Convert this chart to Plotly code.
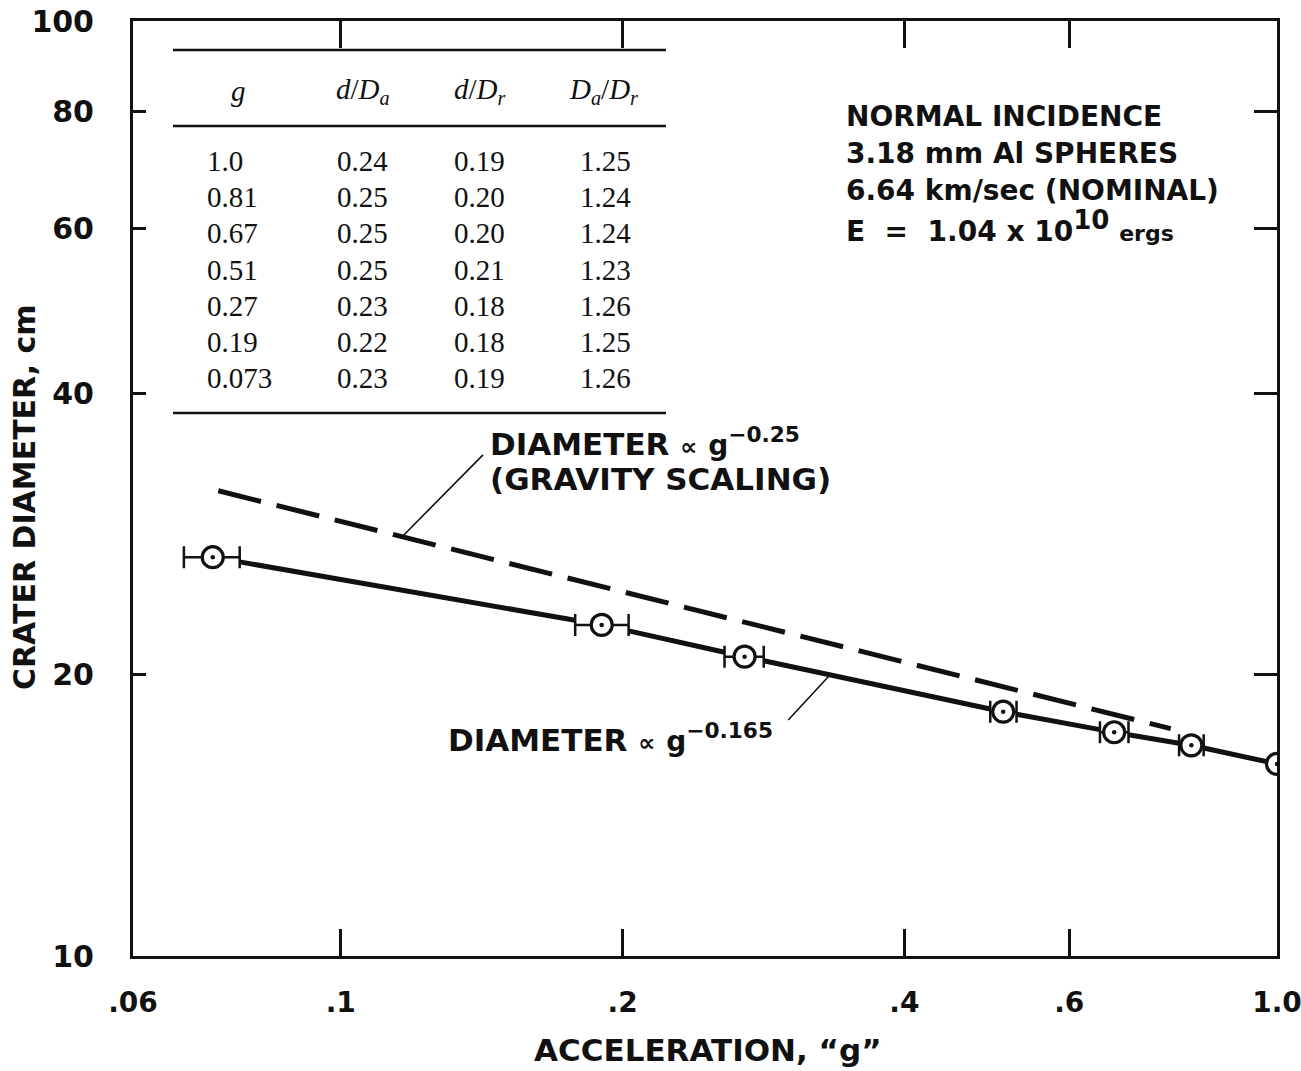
import numpy as np
import plotly.graph_objects as go

# ---- measured crater diameters vs. acceleration ----
g_vals = [0.073, 0.19, 0.27, 0.51, 0.67, 0.81, 1.0]
diam_cm = [26.7, 22.6, 20.9, 18.25, 17.35, 16.8, 16.05]
g_low = [0.068, 0.178, 0.257, 0.494, 0.647, 0.786, 1.0]
g_high = [0.078, 0.203, 0.283, 0.527, 0.694, 0.835, 1.0]

# ---- gravity-scaling reference line, D ~ g^-0.25 ----
gravity_exp = -0.25
gravity_coeff = 16.4
gravity_g_range = [0.074, 0.77]

# ---- inset table ----
table_header = ["<i>g</i>", "<i>d</i>/<i>D<sub>a</sub></i>",
                "<i>d</i>/<i>D<sub>r</sub></i>", "<i>D<sub>a</sub></i>/<i>D<sub>r</sub></i>"]
table_g = ["1.0", "0.81", "0.67", "0.51", "0.27", "0.19", "0.073"]
table_d_Da = ["0.24", "0.25", "0.25", "0.25", "0.23", "0.22", "0.23"]
table_d_Dr = ["0.19", "0.20", "0.20", "0.21", "0.18", "0.18", "0.19"]
table_Da_Dr = ["1.25", "1.24", "1.24", "1.23", "1.26", "1.25", "1.26"]

# ---- axis ticks ----
x_ticks = [0.06, 0.1, 0.2, 0.4, 0.6, 1.0]
x_ticktext = [".06", ".1", ".2", ".4", ".6", "1.0"]
y_ticks = [10, 20, 40, 60, 80, 100]
y_ticktext = ["10", "20", "40", "60", "80", "100"]

W, H = 1301, 1071
ML, MR, MT, MB = 133, 24, 21, 115
PW, PH = W - ML - MR, H - MT - MB


def px(x):
    return (x - ML) / PW


def py(y):
    return (H - MB - y) / PH


SANS = "DejaVu Sans"
SERIF = "Liberation Serif"
BLACK = "#111111"

fig = go.Figure()

# fitted trend between successive points, drawn between the error-bar caps
seg_x, seg_y = [], []
lg, ld = np.log10(g_vals), np.log10(diam_cm)
for i in range(len(g_vals) - 1):
    s = (ld[i + 1] - ld[i]) / (lg[i + 1] - lg[i])
    ga = g_high[i]
    gb = g_low[i + 1] if i + 1 < len(g_vals) - 1 else g_vals[i + 1]
    for gg in (ga, gb):
        seg_x.append(gg)
        seg_y.append(10 ** (ld[i] + s * (np.log10(gg) - lg[i])))
    seg_x.append(None)
    seg_y.append(None)
fig.add_trace(go.Scatter(x=seg_x, y=seg_y, mode="lines",
                         line=dict(color=BLACK, width=5), hoverinfo="skip"))

# gravity scaling dashed line
gx = np.array(gravity_g_range)
fig.add_trace(go.Scatter(x=gx, y=gravity_coeff * gx ** gravity_exp, mode="lines",
                         line=dict(color=BLACK, width=5, dash="44px,16px"),
                         hoverinfo="skip"))

# data points with horizontal error bars
gv = np.array(g_vals)
fig.add_trace(go.Scatter(
    x=g_vals, y=diam_cm, mode="markers",
    marker=dict(symbol="circle", size=21, color="white",
                line=dict(color=BLACK, width=3.2)),
    error_x=dict(type="data", symmetric=False,
                 array=list(np.array(g_high) - gv),
                 arrayminus=list(gv - np.array(g_low)),
                 thickness=2.5, width=11, color=BLACK),
))
fig.add_trace(go.Scatter(x=g_vals, y=diam_cm, mode="markers",
                         marker=dict(size=4.5, color=BLACK), hoverinfo="skip"))

# leader lines from the labels to the lines
g_up = 0.1163
fig.add_trace(go.Scatter(x=[0.1419, g_up], y=[34.35, gravity_coeff * g_up ** gravity_exp],
                         mode="lines", line=dict(color=BLACK, width=1.6), hoverinfo="skip"))
fig.add_trace(go.Scatter(x=[0.3006, 0.333], y=[17.88, 19.98],
                         mode="lines", line=dict(color=BLACK, width=1.6), hoverinfo="skip"))

# dummy trace for the right-hand tick axis
fig.add_trace(go.Scatter(x=[0.5], y=[20], yaxis="y2", mode="markers",
                         marker=dict(opacity=0), hoverinfo="skip"))

ann = []
# inset table
for xc, txt in zip([238, 363, 480, 603], table_header):
    ann.append(dict(x=px(xc), y=py(91), text=txt, xanchor="center", yanchor="middle",
                    font=dict(family=SERIF, size=29, color=BLACK)))
cols = [table_g, table_d_Da, table_d_Dr, table_Da_Dr]
for xl, col in zip([205, 335, 452, 578], cols):
    for r, txt in enumerate(col):
        ann.append(dict(x=px(xl), y=py(161 + 36.2 * r), text=txt, xanchor="left",
                        yanchor="middle", font=dict(family=SERIF, size=29, color=BLACK)))

# experiment description
desc = ["NORMAL INCIDENCE", "3.18 mm Al SPHERES", "6.64 km/sec (NOMINAL)",
        "E  =  1.04 x 10<sup><span style='font-size:26px'>10</span></sup> "
        "<span style='font-size:22px'>ergs</span>"]
for i, txt in enumerate(desc):
    ann.append(dict(x=px(844), y=py(117 + 36.5 * i), text=txt, xanchor="left",
                    yanchor="middle", font=dict(family=SANS, size=28, color=BLACK,
                                                weight="bold")))

lab_font = dict(family=SANS, size=31, color=BLACK, weight="bold")
ann.append(dict(x=px(488), y=py(442),
                text="DIAMETER <span style='font-size:24px'>∝</span> "
                     "<span style='font-size:28px'>g</span><sup>−0.25</sup>",
                xanchor="left", yanchor="middle", font=lab_font))
ann.append(dict(x=px(488), y=py(479), text="(GRAVITY SCALING)",
                xanchor="left", yanchor="middle", font=lab_font))
ann.append(dict(x=px(446), y=py(738),
                text="DIAMETER <span style='font-size:24px'>∝</span> "
                     "<span style='font-size:28px'>g</span><sup>−0.165</sup>",
                xanchor="left", yanchor="middle", font=lab_font))

# axis titles
ann.append(dict(x=px(708), y=py(1050), text="ACCELERATION, “g”", xanchor="center",
                yanchor="middle", font=dict(family=SANS, size=31, color=BLACK, weight="bold")))
ann.append(dict(x=px(25), y=py(497), text="CRATER DIAMETER, cm", textangle=-90,
                xanchor="center", yanchor="middle",
                font=dict(family=SANS, size=30, color=BLACK, weight="bold")))
for a in ann:
    a.update(xref="paper", yref="paper", showarrow=False)

# table rules
shapes = []
for yy in [50, 126, 413]:
    shapes.append(dict(type="line", xref="paper", yref="paper", x0=px(173), x1=px(666),
                       y0=py(yy), y1=py(yy), line=dict(color=BLACK, width=2.5)))

fig.update_layout(
    width=W, height=H,
    margin=dict(l=ML, r=MR, t=MT, b=MB),
    paper_bgcolor="white", plot_bgcolor="white",
    showlegend=False,
    annotations=ann, shapes=shapes,
    xaxis=dict(type="log", range=[np.log10(0.06), 0], tickvals=x_ticks,
               ticktext=x_ticktext, ticks="inside", ticklen=27, tickwidth=2.5,
               tickcolor=BLACK, showline=True, linewidth=3, linecolor=BLACK,
               mirror="ticks", showgrid=False, zeroline=False,
               tickfont=dict(family=SANS, size=28, color=BLACK, weight="bold"),
               ticklabelstandoff=19, ticklabeloverflow="allow", automargin=False),
    yaxis=dict(type="log", range=[1, 2], tickvals=y_ticks, ticktext=y_ticktext,
               ticks="inside", ticklen=13, tickwidth=2.5, tickcolor=BLACK,
               showline=True, linewidth=3, linecolor=BLACK, mirror=True,
               showgrid=False, zeroline=False,
               tickfont=dict(family=SANS, size=30, color=BLACK, weight="bold"),
               ticklabelstandoff=30, automargin=False),
    yaxis2=dict(type="log", range=[1, 2], overlaying="y", side="right",
                tickvals=y_ticks, ticks="inside", ticklen=23, tickwidth=2.5,
                tickcolor=BLACK, showticklabels=False, showline=False,
                showgrid=False, zeroline=False, automargin=False),
)

fig.write_html("out.html")
